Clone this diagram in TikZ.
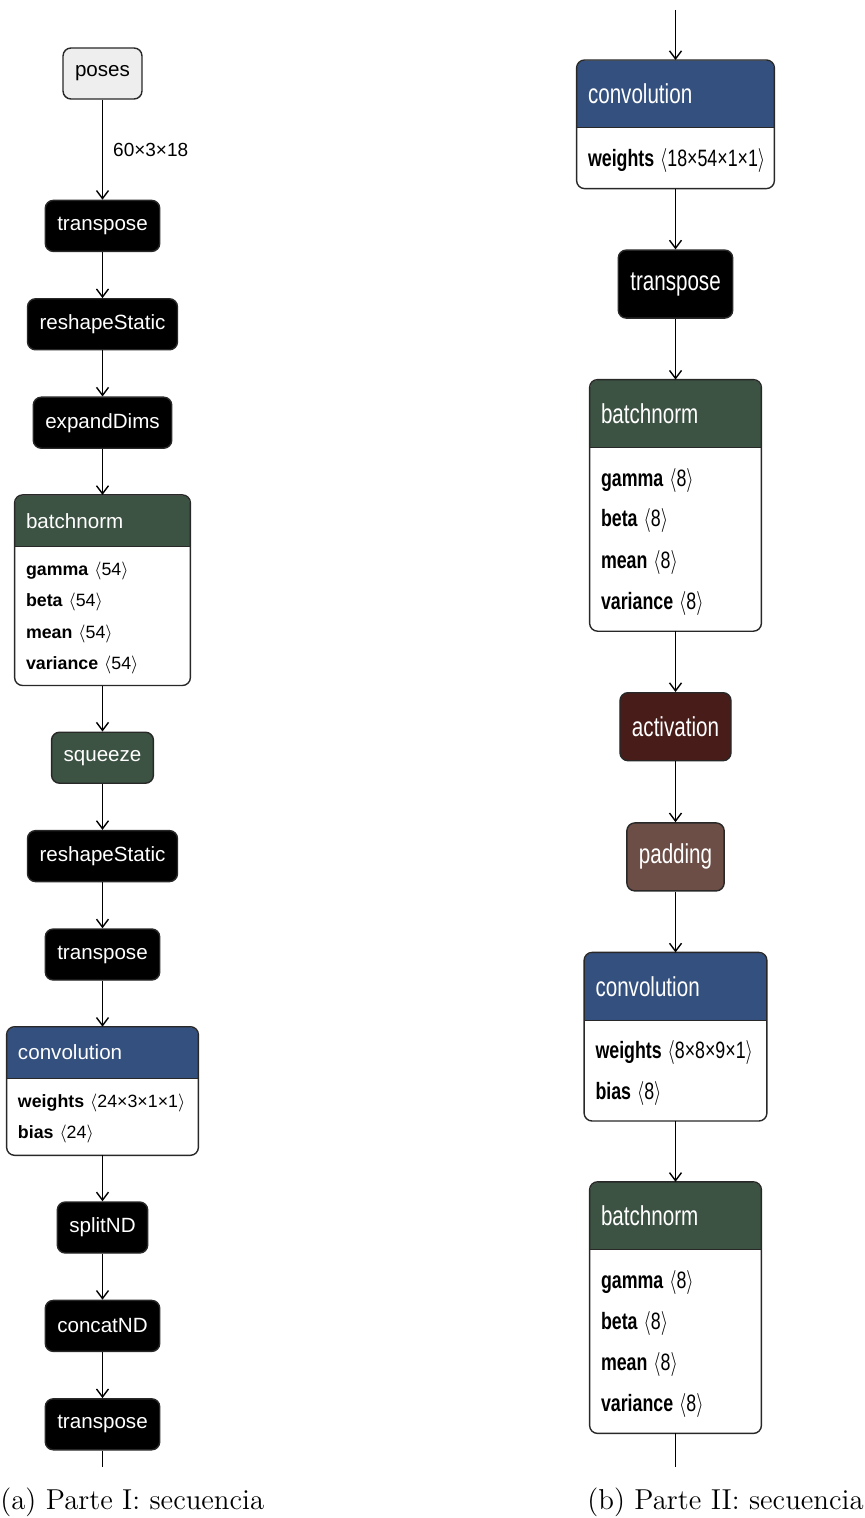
\documentclass[tikz,border=0pt]{standalone}
\usepackage{fontspec}
\usepackage{graphicx}
\usetikzlibrary{arrows.meta,positioning,backgrounds}
\newfontfamily\opfont{Liberation Sans}
\definecolor{bnGreen}{RGB}{60,82,66}
\definecolor{convBlue}{RGB}{52,80,126}
\definecolor{actBrown}{RGB}{72,28,24}
\definecolor{padBrown}{RGB}{108,78,70}
\definecolor{inGray}{RGB}{238,238,238}
\definecolor{lineGray}{RGB}{40,40,40}
\newcommand{\tall}[1]{\scalebox{1}[1.33]{#1}}
\newcommand{\prm}[2]{\textbf{#1}\ \ensuremath{\langle}#2\ensuremath{\rangle}}
% coloured header + white parameter part, one rounded outline
\newcommand{\unitframe}[3]{%
  \begin{pgfonlayer}{background}
    \fill[#3] (#1.west) rectangle (#1.south east);
  \end{pgfonlayer}
  \draw[unitbox] (#1.north west) rectangle (#2.south east);
  \draw[unitbox] (#1.south west) -- (#1.south east);
}

\begin{document}
\begin{tikzpicture}[
  x=0.5pt,y=-0.5pt,
  node distance=23pt,
  box/.style={draw=lineGray,line width=0.7pt,rounded corners=4pt,minimum height=25.5pt,
    inner xsep=6pt,inner ysep=0pt,font=\opfont\fontsize{10.3}{12}\selectfont},
  op/.style={box,fill=black,text=white},
  input/.style={box,fill=inGray},
  opgreen/.style={box,fill=bnGreen,text=white},
  opact/.style={box,fill=actBrown,text=white},
  oppad/.style={box,fill=padBrown,text=white},
  tallbox/.style={minimum height=34pt},
  hdr/.style={rounded corners=4pt,text=white,minimum height=25.5pt,inner xsep=5.5pt,inner ysep=0pt,
    align=left,text width=#1,font=\opfont\fontsize{10.3}{12}\selectfont},
  body/.style={text width=#1,align=left,inner xsep=5.5pt,inner ysep=0pt,
    font=\opfont\fontsize{8.9}{15.65}\selectfont},
  bodytall/.style={body=#1,font=\opfont\fontsize{8.9}{20.5}\selectfont},
  unitbox/.style={draw=lineGray,line width=0.7pt,rounded corners=4pt},
  arr/.style={-{Straight Barb[length=4pt,width=6pt]},line width=0.7pt},
  wire/.style={line width=0.7pt},
  caption/.style={font=\fontsize{14.4}{17}\selectfont,inner sep=0pt}
]
\useasboundingbox (0,0) rectangle (864,1518);

% part I
\node[input] (poses) at (102.5,73.5) {poses};
\node[op,below=50pt of poses] (tr1) {transpose};
\node[op,below=of tr1] (rs1) {reshapeStatic};
\node[op,below=of rs1] (ed) {expandDims};
\node[hdr=76.5pt,fill=bnGreen,below=of ed] (bn1) {batchnorm};
\node[body=76.5pt,minimum height=69pt,anchor=north west] (bn1p) at (bn1.south west)
  {\strut\prm{gamma}{54}\\ \prm{beta}{54}\\ \prm{mean}{54}\\ \prm{variance}{54}\strut};
\unitframe{bn1}{bn1p}{bnGreen}
\node[opgreen,below=of bn1p] (sq) {squeeze};
\node[op,below=of sq] (rs2) {reshapeStatic};
\node[op,below=of rs2] (tr2) {transpose};
\node[hdr=84.5pt,fill=convBlue,below=of tr2] (cv1) {convolution};
\node[body=84.5pt,minimum height=38pt,anchor=north west] (cv1p) at (cv1.south west)
  {\strut\prm{weights}{24×3×1×1}\\ \prm{bias}{24}\strut};
\unitframe{cv1}{cv1p}{convBlue}
\node[op,below=of cv1p] (sp) {splitND};
\node[op,below=of sp] (cc) {concatND};
\node[op,below=of cc] (tr3) {transpose};
\coordinate (lout) at (102.5,1467);

\draw[arr] (poses) -- node[midway,right=5pt,inner sep=0pt,font=\opfont\fontsize{9.5}{11}\selectfont] (shp) {60×3×18} (tr1);
\draw[arr] (tr1) -- (rs1);
\draw[arr] (rs1) -- (ed);
\draw[arr] (ed) -- (bn1);
\draw[arr] (bn1p) -- (sq);
\draw[arr] (sq) -- (rs2);
\draw[arr] (rs2) -- (tr2);
\draw[arr] (tr2) -- (cv1);
\draw[arr] (cv1p) -- (sp);
\draw[arr] (sp) -- (cc);
\draw[arr] (cc) -- (tr3);
\draw[wire] (tr3) -- (lout);

% part II
\begin{scope}[node distance=30.4pt]
\coordinate (rin) at (675.5,10);
\node[hdr=87.5pt,fill=convBlue,minimum height=33.5pt,anchor=north] (cv2) at (675.5,60) {\tall{convolution}};
\node[bodytall=87.5pt,minimum height=30pt,anchor=north west] (cv2p) at (cv2.south west)
  {\strut\tall{\prm{weights}{18×54×1×1}}\strut};
\unitframe{cv2}{cv2p}{convBlue}
\node[op,tallbox,below=of cv2p] (tr4) {\tall{transpose}};
\node[hdr=74.5pt,fill=bnGreen,minimum height=33.5pt,below=of tr4] (bn2) {\tall{batchnorm}};
\node[bodytall=74.5pt,minimum height=91.5pt,anchor=north west] (bn2p) at (bn2.south west)
  {\strut\tall{\prm{gamma}{8}}\\ \tall{\prm{beta}{8}}\\ \tall{\prm{mean}{8}}\\ \tall{\prm{variance}{8}}\strut};
\unitframe{bn2}{bn2p}{bnGreen}
\node[opact,tallbox,below=of bn2p] (act) {\tall{activation}};
\node[oppad,tallbox,below=of act] (pad) {\tall{padding}};
\node[hdr=80pt,fill=convBlue,minimum height=33.5pt,below=of pad] (cv3) {\tall{convolution}};
\node[bodytall=80pt,minimum height=50pt,anchor=north west] (cv3p) at (cv3.south west)
  {\strut\tall{\prm{weights}{8×8×9×1}}\\ \tall{\prm{bias}{8}}\strut};
\unitframe{cv3}{cv3p}{convBlue}
\node[hdr=74.5pt,fill=bnGreen,minimum height=33.5pt,below=of cv3p] (bn3) {\tall{batchnorm}};
\node[bodytall=74.5pt,minimum height=91.5pt,anchor=north west] (bn3p) at (bn3.south west)
  {\strut\tall{\prm{gamma}{8}}\\ \tall{\prm{beta}{8}}\\ \tall{\prm{mean}{8}}\\ \tall{\prm{variance}{8}}\strut};
\unitframe{bn3}{bn3p}{bnGreen}
\coordinate (rout) at (675.5,1467);
\end{scope}

\draw[arr] (rin) -- (cv2);
\draw[arr] (cv2p) -- (tr4);
\draw[arr] (tr4) -- (bn2);
\draw[arr] (bn2p) -- (act);
\draw[arr] (act) -- (pad);
\draw[arr] (pad) -- (cv3);
\draw[arr] (cv3p) -- (bn3);
\draw[wire] (bn3p) -- (rout);

% captions
\node[caption,anchor=base west] (capA) at (0,1509) {(a) Parte I: secuencia};
\node[caption,anchor=base east] (capB) at (864,1509) {(b) Parte II: secuencia};
\end{tikzpicture}
\end{document}
